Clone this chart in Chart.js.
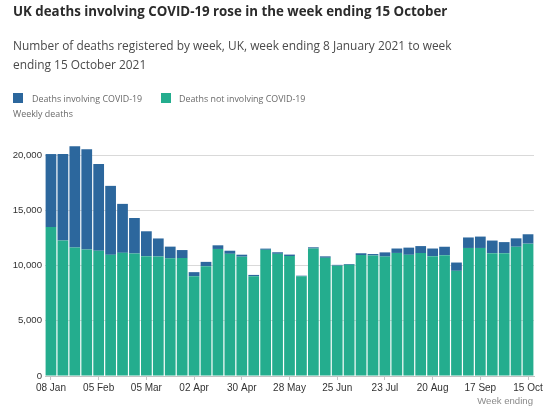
<!DOCTYPE html>
<html>
<head>
<meta charset="utf-8">
<script src="https://cdn.jsdelivr.net/npm/chart.js@4"></script>
<style>
  html, body { margin: 0; padding: 0; background: #ffffff; }
  #wrap { position: relative; width: 550px; height: 416px; overflow: hidden; }
  #c { position: absolute; left: 0; top: 0; }
  .t { position: absolute; white-space: nowrap; font-family: "Open Sans", sans-serif; }
  #title { left: 13px; top: 2px; font-size: 13.3px; font-weight: 700; color: #2b2b2b; }
  #sub { left: 13px; top: 36px; font-size: 11.9px; line-height: 19px; color: #4a4a4a; }
  .sw { position: absolute; width: 10px; height: 10px; }
  .lg { font-size: 8.9px; color: #6a6a6a; top: 92px; }
  #yt { left: 13px; top: 107px; font-size: 8.9px; color: #6a6a6a; }
  #we { right: 17px; top: 395px; font-family: "Liberation Sans", Arial, sans-serif; font-size: 9.6px; color: #8a8a8a; }
</style>
</head>
<body>
<div id="wrap">
  <canvas id="c" width="550" height="416"></canvas>
  <div class="t" id="title">UK deaths involving COVID-19 rose in the week ending 15 October</div>
  <div class="t" id="sub">Number of deaths registered by week, UK, week ending 8 January 2021 to week<br>ending 15 October 2021</div>
  <div class="sw" style="left:13px;top:93px;background:#2c679d;"></div>
  <div class="t lg" style="left:32px;">Deaths involving COVID-19</div>
  <div class="sw" style="left:161px;top:93px;background:#24ad8e;"></div>
  <div class="t lg" style="left:179px;">Deaths not involving COVID-19</div>
  <div class="t" id="yt">Weekly deaths</div>
  <div class="t" id="we">Week ending</div>
</div>
<script>
const weeks = ["08 Jan","15 Jan","22 Jan","29 Jan","05 Feb","12 Feb","19 Feb","26 Feb",
  "05 Mar","12 Mar","19 Mar","26 Mar","02 Apr","09 Apr","16 Apr","23 Apr",
  "30 Apr","07 May","14 May","21 May","28 May","04 Jun","11 Jun","18 Jun",
  "25 Jun","02 Jul","09 Jul","16 Jul","23 Jul","30 Jul","06 Aug","13 Aug",
  "20 Aug","27 Aug","03 Sep","10 Sep","17 Sep","24 Sep","01 Oct","08 Oct","15 Oct"];

const notInvolvingCovid = [13480,12270,11640,11460,11330,10970,11150,11090,
  10850,10820,10650,10670,9030,9940,11500,11060,
  10800,9030,11420,11060,10860,9030,11540,10700,
  9990,10060,10950,10910,10810,11140,10970,11130,
  10850,10940,9520,11590,11590,11120,11120,11700,11980];

const involvingCovid = [6610,7820,9150,9060,7850,6240,4430,3210,
  2250,1630,1060,730,370,390,330,280,
  180,120,110,140,130,50,110,130,
  70,70,160,130,380,400,650,630,
  690,760,750,950,1030,1140,1000,760,850];

const yTicks = [0, 5000, 10000, 15000, 20000];

const chart = new Chart(document.getElementById('c'), {
  type: 'bar',
  data: {
    labels: weeks,
    datasets: [
      { label: 'Deaths not involving COVID-19', data: notInvolvingCovid, backgroundColor: '#24ad8e',
        barPercentage: 0.9, categoryPercentage: 1.0, borderWidth: 0 },
      { label: 'Deaths involving COVID-19', data: involvingCovid, backgroundColor: '#2c679d',
        barPercentage: 0.9, categoryPercentage: 1.0, borderWidth: 0 }
    ]
  },
  options: {
    responsive: false,
    animation: false,
    devicePixelRatio: 1,
    layout: { padding: { top: 144, right: 16, left: 0, bottom: 0 } },
    plugins: { legend: { display: false }, tooltip: { enabled: false }, title: { display: false } },
    scales: {
      x: {
        stacked: true,
        afterFit: s => { s.height = 40; },
        border: { display: true, color: '#c4c4c4', width: 1 },
        grid: {
          offset: false,
          drawOnChartArea: false,
          drawTicks: true,
          tickLength: 4,
          color: ctx => (ctx.index % 4 === 0 ? '#c4c4c4' : 'rgba(0,0,0,0)')
        },
        ticks: {
          autoSkip: false,
          maxRotation: 0,
          padding: 2,
          color: '#333333',
          font: { family: '"Liberation Sans", Arial, sans-serif', size: 10 },
          callback: function (v, i) { return i % 4 === 0 ? weeks[i] : ''; }
        }
      },
      y: {
        stacked: true,
        min: 0,
        max: 21000,
        afterFit: s => { s.width = 45; },
        afterBuildTicks: s => { s.ticks = yTicks.map(v => ({ value: v })); },
        border: { display: false },
        grid: { color: '#d9d9d9', lineWidth: 1, drawTicks: false },
        ticks: {
          padding: 3,
          color: '#333333',
          font: { family: '"Liberation Sans", Arial, sans-serif', size: 9.6 },
          callback: v => v.toLocaleString('en-GB')
        }
      }
    }
  }
});
</script>
</body>
</html>
